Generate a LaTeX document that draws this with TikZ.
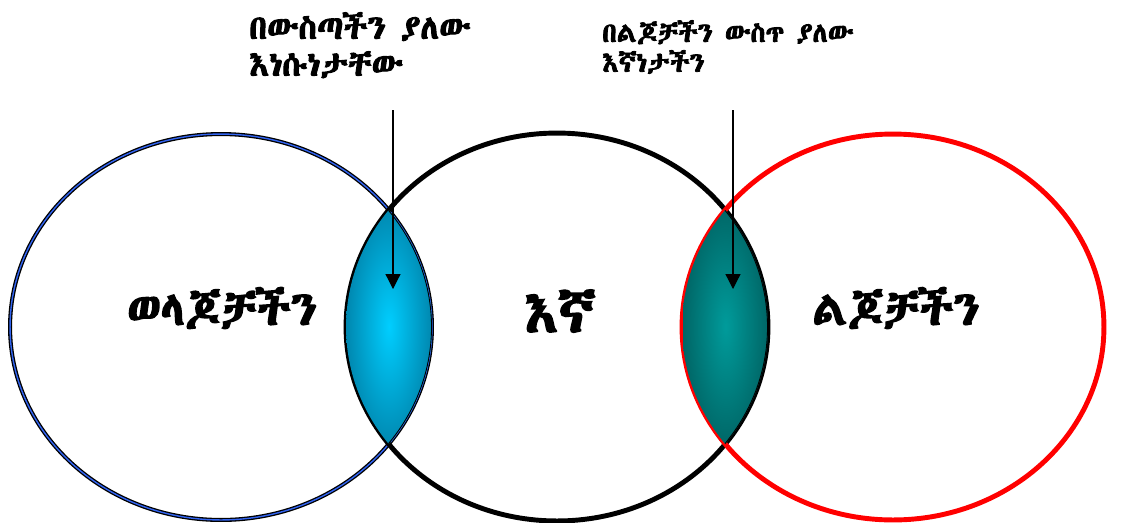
\documentclass[tikz,border=0pt]{standalone}
\usepackage{fontspec}
\usetikzlibrary{arrows.meta}
\IfFontExistsTF{Abyssinica SIL}{\newfontfamily\ethfont[FakeBold=3]{Abyssinica SIL}}{%
  \IfFontExistsTF{FreeSerif}{\newfontfamily\ethfont[FakeBold=3]{FreeSerif}}{%
    \IfFontExistsTF{Noto Sans Ethiopic}{\newfontfamily\ethfont{Noto Sans Ethiopic}}{%
      \newfontfamily\ethfont{DejaVu Sans}}}}
\definecolor{ringblue}{RGB}{50,100,240}
\definecolor{lensblue}{RGB}{0,206,255}
\definecolor{lensblueedge}{RGB}{0,135,175}
\definecolor{lensteal}{RGB}{0,155,155}
\definecolor{lenstealedge}{RGB}{0,102,102}

\begin{document}
\begin{tikzpicture}[x=0.02cm, y=-0.02cm,
  ring/.style={line width=2.8pt},
  lensline/.style={draw=black, line width=1pt},
  venntext/.style={font=\ethfont\fontsize{27}{31}\selectfont, inner sep=0pt},
  topnote/.style={align=left, inner sep=0pt, anchor=north west},
  pointer/.style={-{Triangle[width=8.5pt,length=8.5pt]}, line width=0.7pt}]
  \useasboundingbox (0,0) rectangle (1137,522);

  % Centres
  \coordinate (parents) at (221,327);
  \coordinate (us) at (557,327);
  \coordinate (children) at (893,327);

  % Circles
  \draw[draw=black, double=ringblue, line width=0.75pt, double distance=0.8pt]
    (parents) ellipse [x radius=4.22cm, y radius=3.86cm];
  \draw[ring, black] (us) ellipse [x radius=4.22cm, y radius=3.88cm];
  \draw[ring, red] (children) ellipse [x radius=4.22cm, y radius=3.86cm];

  % Left lens
  \begin{scope}
    \clip (parents) ellipse [x radius=4.22cm, y radius=3.86cm];
    \clip (us) ellipse [x radius=4.22cm, y radius=3.88cm];
    \shade[inner color=lensblue, outer color=lensblueedge] (346,205) rectangle (432,448);
    \draw[lensline] (parents) ellipse [x radius=4.22cm, y radius=3.86cm];
  \end{scope}

  % Right lens
  \begin{scope}
    \clip (us) ellipse [x radius=4.22cm, y radius=3.88cm];
    \clip (children) ellipse [x radius=4.22cm, y radius=3.86cm];
    \shade[inner color=lensteal, outer color=lenstealedge] (683,205) rectangle (768,448);
    \draw[lensline] (us) ellipse [x radius=4.22cm, y radius=3.88cm];
  \end{scope}

  % Labels
  \node[venntext] (parentsText) at (222,308) {ወላጆቻችን};
  \node[venntext, font=\ethfont\fontsize{32}{36}\selectfont] (usText) at (560,311) {እኛ};
  \node[venntext] (childrenText) at (896,308) {ልጆቻችን};

  % Notes
  \node[topnote, font=\ethfont\fontsize{19}{21}\selectfont] (innerNote) at (249,12)
    {በውስጣችን ያለው\\እነሱነታቸው};
  \node[topnote, font=\ethfont\fontsize{15.5}{17}\selectfont] (childNote) at (602,20)
    {በልጆቻችን ውስጥ ያለው\\እኛነታችን};

  % Arrows
  \coordinate (innerTail) at (393,110);
  \coordinate (innerHead) at (393,289);
  \coordinate (childTail) at (733,110);
  \coordinate (childHead) at (733,289);
  \draw[pointer] (innerTail) -- (innerHead);
  \draw[pointer] (childTail) -- (childHead);
\end{tikzpicture}
\end{document}
